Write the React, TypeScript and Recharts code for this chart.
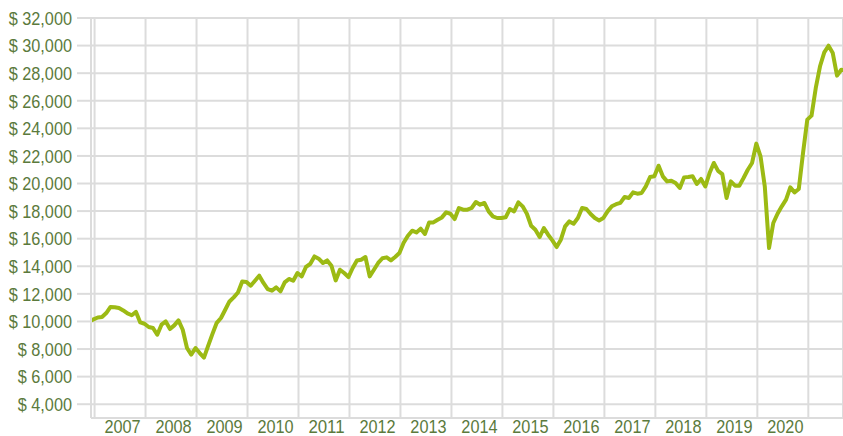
import { CartesianGrid, Line, LineChart, XAxis, YAxis } from "recharts";

// Month-end values of a $10,000 investment, one point per month.
const VALUES_2006_2009 = [
  10000, 10150, 10290, 10320, 10610, 11050, 11030, 10975, 10800, 10580, 10450, 10690,
  9930, 9835, 9600, 9525, 9040, 9765, 10000, 9450, 9715, 10075, 9400, 8075,
  7600, 8075, 7710, 7380, 8250, 9100, 9900, 10250, 10850, 11450, 11750, 12100,
];
const VALUES_2010_2012 = [
  12900, 12860, 12590, 12950, 13320, 12790, 12350, 12230, 12470, 12180, 12830, 13080,
  12950, 13510, 13270, 13950, 14165, 14715, 14550, 14240, 14425, 14040, 12975, 13750,
  13510, 13220, 13875, 14425, 14475, 14670, 13270, 13750, 14240, 14580, 14645, 14425,
];
const VALUES_2013_2015 = [
  14670, 14960, 15700, 16215, 16580, 16455, 16725, 16340, 17180, 17180, 17375, 17545,
  17910, 17810, 17425, 18225, 18100, 18100, 18225, 18660, 18465, 18590, 17980, 17615,
  17500, 17500, 17550, 18150, 17980, 18635, 18345, 17810, 16940, 16650, 16120, 16775,
];
const VALUES_2016_2018 = [
  16290, 15875, 15395, 15925, 16890, 17255, 17085, 17500, 18225, 18150, 17790, 17500,
  17325, 17500, 17980, 18350, 18500, 18600, 19025, 18950, 19360, 19265, 19315, 19790,
  20470, 20520, 21290, 20520, 20155, 20205, 20040, 19675, 20445, 20470, 20520, 19965,
];
const VALUES_2019_2021 = [
  20330, 19790, 20760, 21490, 20920, 20680, 18950, 20155, 19840, 19840, 20400, 21000,
  21490, 22890, 21965, 19790, 15325, 17140, 17810, 18345, 18830, 19720, 19360, 19600,
  22210, 24630, 24920, 26930, 28500, 29505, 29990, 29460, 27820, 28250, 28200,
];

// First point sits just before the 2007 year line; one point per month after that.
const FIRST_POINT = 2006.896;
const YEAR_TICKS = [2007, 2008, 2009, 2010, 2011, 2012, 2013, 2014, 2015, 2016, 2017, 2018, 2019, 2020, 2021];
const LABELLED_YEARS = YEAR_TICKS.slice(0, -1);
const VALUE_TICKS = [4000, 6000, 8000, 10000, 12000, 14000, 16000, 18000, 20000, 22000, 24000, 26000, 28000, 30000, 32000];

const ALL_VALUES = [
  ...VALUES_2006_2009,
  ...VALUES_2010_2012,
  ...VALUES_2013_2015,
  ...VALUES_2016_2018,
  ...VALUES_2019_2021,
];

const chartData = ALL_VALUES.map((value, i) => ({ x: FIRST_POINT + i / 12, value }));

const FONT = "'Liberation Sans', Arial, sans-serif";
const FONT_SIZE = 19;
const TEXT_COLOUR = "#5b7a3c";
const GRID_COLOUR = "#dcdcdc";

function formatDollars(v: number): string {
  return `$ ${v.toLocaleString("en-US")}`;
}

/** The original uses a condensed face; squeeze Arial metrics to match. */
function condensedWidth(label: string): number {
  let em = 0;
  for (const ch of label) em += ch === " " || ch === "," ? 0.278 : 0.556;
  return em * FONT_SIZE * 0.857;
}

function ValueTick(props: { x?: number; y?: number; payload?: { value: number } }) {
  const { x = 0, y = 0, payload } = props;
  if (!payload) return null;
  const label = formatDollars(payload.value);
  return (
    <text
      x={x}
      y={y}
      dy="0.355em"
      textAnchor="end"
      fill={TEXT_COLOUR}
      fontSize={FONT_SIZE}
      fontFamily={FONT}
      textLength={condensedWidth(label)}
      lengthAdjust="spacingAndGlyphs"
    >
      {label}
    </text>
  );
}

function YearTick(props: { x?: number; y?: number; payload?: { value: number } }) {
  const { x = 0, y = 0, payload } = props;
  if (!payload || !LABELLED_YEARS.includes(payload.value)) return null;
  const label = String(payload.value);
  // labels sit in the middle of each year's column
  return (
    <text
      x={x + 28}
      y={y + 7}
      textAnchor="middle"
      fill={TEXT_COLOUR}
      fontSize={FONT_SIZE}
      fontFamily={FONT}
      textLength={condensedWidth(label)}
      lengthAdjust="spacingAndGlyphs"
    >
      {label}
    </text>
  );
}

export default function App() {
  return (
    <div style={{ position: "absolute", left: 0, top: 0, width: 843, height: 436, background: "#fff" }}>
      <LineChart width={843} height={436} data={chartData} margin={{ top: 18, right: 0, bottom: 0, left: 0 }}>
        <CartesianGrid stroke={GRID_COLOUR} strokeWidth={2} />
        <XAxis
          type="number"
          dataKey="x"
          domain={[2006.93, 2021.68]}
          allowDataOverflow
          ticks={YEAR_TICKS}
          tick={<YearTick />}
          tickLine={false}
          axisLine={false}
          height={18}
          interval={0}
        />
        <YAxis
          type="number"
          domain={[3000, 32000]}
          ticks={VALUE_TICKS}
          width={91}
          tickSize={14}
          tickMargin={5}
          tickLine={{ stroke: GRID_COLOUR, strokeWidth: 2 }}
          axisLine={{ stroke: GRID_COLOUR, strokeWidth: 2 }}
          tick={<ValueTick />}
          interval={0}
        />
        <Line
          type="linear"
          dataKey="value"
          stroke="#9cba14"
          strokeWidth={4}
          dot={false}
          isAnimationActive={false}
          strokeLinejoin="round"
        />
      </LineChart>
    </div>
  );
}
